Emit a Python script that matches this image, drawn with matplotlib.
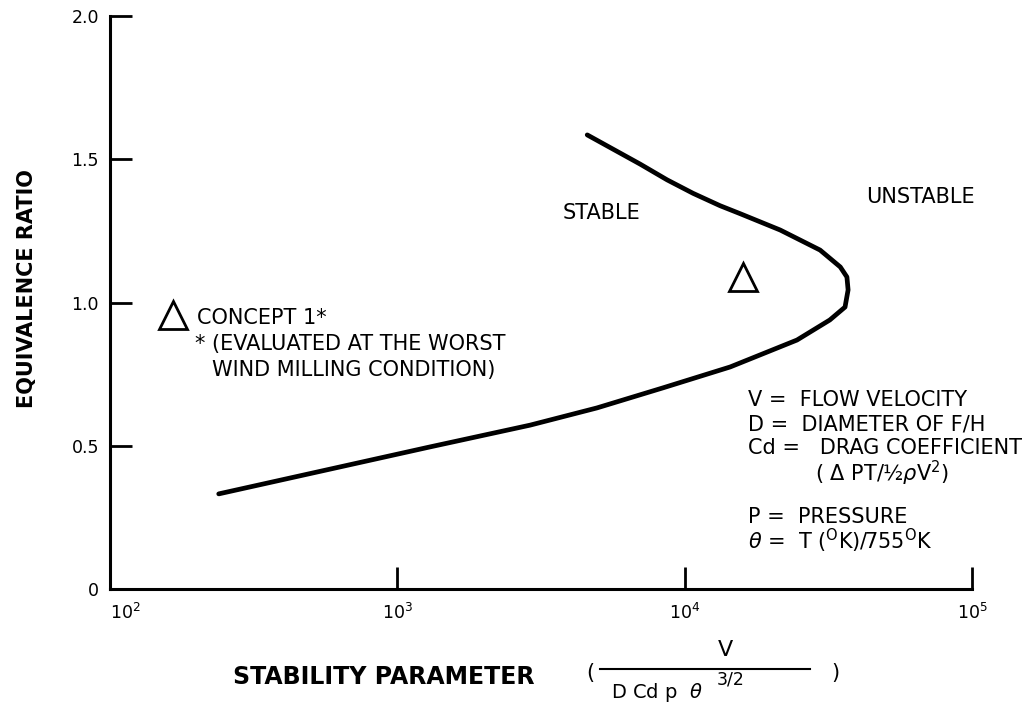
import matplotlib
matplotlib.use("Agg")
import matplotlib.pyplot as plt
from matplotlib.lines import Line2D

# ---- data ----
curve_x = [239, 631, 1300, 2900, 4950, 8400, 14400, 24600, 32000, 36150,
           37050, 36700, 34800, 29600, 21500, 15600, 13270, 10700, 8690, 7000, 4580]
curve_y = [0.332, 0.426, 0.496, 0.572, 0.632, 0.702, 0.775, 0.869, 0.939, 0.984,
           1.044, 1.089, 1.124, 1.183, 1.253, 1.310, 1.338, 1.381, 1.428, 1.483, 1.585]

concept1_x = [166]
concept1_y = [0.956]
point2_x = [15960]
point2_y = [1.089]

xticks = [1e2, 1e3, 1e4, 1e5]
xtick_labels = [r"$10^2$", r"$10^3$", r"$10^4$", r"$10^5$"]
yticks = [0, 0.5, 1.0, 1.5, 2.0]
ytick_labels = ["0", "0.5", "1.0", "1.5", "2.0"]

legend_lines = ["V =  FLOW VELOCITY", "D =  DIAMETER OF F/H",
                "Cd =   DRAG COEFFICIENT", r"( $\Delta$ PT/½$\rho$V$^2$)",
                "P =  PRESSURE", r"$\theta$ =  T ($^{\rm O}$K)/755$^{\rm O}$K"]

plt.rcParams['font.family'] = ['DejaVu Sans']
plt.rcParams['mathtext.fontset'] = 'dejavusans'

W, H = 1032, 706
fig = plt.figure(figsize=(W / 100, H / 100), dpi=100)
ax = fig.add_axes([110 / W, 1 - 589 / H, 862 / W, 573 / H])

ax.plot(curve_x, curve_y, color='black', lw=3.4, solid_capstyle='round',
        solid_joinstyle='round')
ax.plot(concept1_x, concept1_y, marker='^', ms=20, mfc='white', mec='black',
        mew=2, ls='none')
ax.plot(point2_x, point2_y, marker='^', ms=20, mfc='white', mec='black',
        mew=2, ls='none')

ax.set_xscale('log')
ax.set_xlim(1e2, 1e5)
ax.set_ylim(0, 2.0)
ax.set_xticks(xticks)
ax.set_xticklabels(xtick_labels)
ax.set_yticks(yticks)
ax.set_yticklabels(ytick_labels)
ax.minorticks_off()
ax.tick_params(axis='both', direction='in', length=16, width=2, labelsize=12.5)
ax.tick_params(axis='x', pad=10)
ax.tick_params(axis='y', pad=8)
ax.get_xticklabels()[0].set_horizontalalignment('left')
for s in ['top', 'right']:
    ax.spines[s].set_visible(False)
for s in ['left', 'bottom']:
    ax.spines[s].set_linewidth(2.2)

def axf(px, py):
    return ((px - 110) / 862, (589 - py) / 573)

fs = 15
# in-plot annotations
ax.text(*axf(602, 213), "STABLE", transform=ax.transAxes, ha='center',
        va='center', fontsize=fs)
ax.text(*axf(920, 197), "UNSTABLE", transform=ax.transAxes, ha='center',
        va='center', fontsize=fs)
ax.text(*axf(197, 318), "CONCEPT 1*", transform=ax.transAxes, ha='left',
        va='center', fontsize=fs)
ax.text(*axf(195, 344), "* (EVALUATED AT THE WORST", transform=ax.transAxes,
        ha='left', va='center', fontsize=fs)
ax.text(*axf(212, 370), "WIND MILLING CONDITION)", transform=ax.transAxes,
        ha='left', va='center', fontsize=fs)

leg_pos = [(748, 400), (748, 424), (748, 448), (815, 473), (748, 517), (748, 541)]
for (px, py), t in zip(leg_pos, legend_lines):
    ax.text(*axf(px, py), t, transform=ax.transAxes, ha='left', va='center',
            fontsize=fs)

# axis labels
def ff(px, py):
    return (px / W, 1 - py / H)

fig.text(*ff(27, 289), "EQUIVALENCE RATIO", rotation=90, ha='center',
         va='center', fontsize=15, fontweight='bold')
fig.text(*ff(233, 677), "STABILITY PARAMETER", ha='left', va='center',
         fontsize=17, fontweight='bold')
fig.text(*ff(590, 673), "(", ha='center', va='center', fontsize=15)
fig.text(*ff(835, 673), ")", ha='center', va='center', fontsize=15)
fig.text(*ff(725, 650), "V", ha='center', va='center', fontsize=16)
fig.text(*ff(657, 693), r"D Cd p  $\theta$", ha='center', va='center', fontsize=14)
fig.text(*ff(731, 680), "3/2", ha='center', va='center', fontsize=12.5)
fig.add_artist(Line2D([600 / W, 810 / W], [1 - 669 / H, 1 - 669 / H],
                      color='black', lw=1.5, transform=fig.transFigure))

fig.savefig("out.png", dpi=100)
